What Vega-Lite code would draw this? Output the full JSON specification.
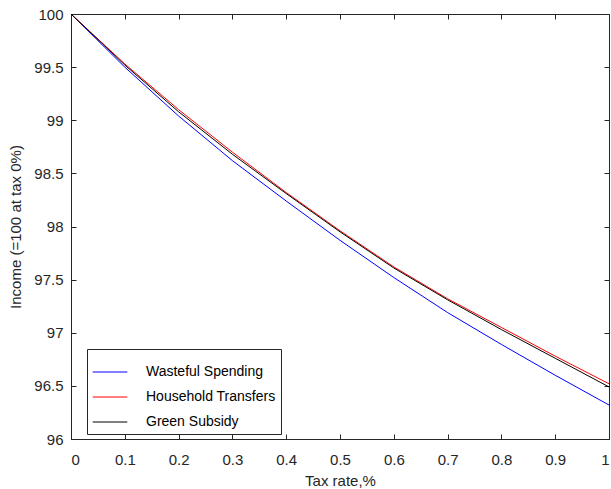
{
  "$schema": "https://vega.github.io/schema/vega-lite/v6.json",
  "width": 538,
  "height": 425,
  "autosize": {"type": "none"},
  "padding": {"left": 71, "top": 14, "right": 2, "bottom": 50},
  "background": "white",
  "config": {
    "font": "Liberation Sans",
    "view": {"stroke": "#262626", "strokeWidth": 1},
    "axis": {
      "labelFont": "Liberation Sans",
      "titleFont": "Liberation Sans",
      "labelColor": "#262626",
      "titleColor": "#262626",
      "labelFontSize": 15,
      "titleFontSize": 15,
      "titleFontWeight": "normal",
      "domainColor": "#262626",
      "tickColor": "#262626",
      "grid": false
    }
  },
  "data": {
    "values": [
      {"x": 0.0, "v": 100.0, "s": "Wasteful Spending"},
      {"x": 0.1, "v": 99.50, "s": "Wasteful Spending"},
      {"x": 0.2, "v": 99.04, "s": "Wasteful Spending"},
      {"x": 0.3, "v": 98.62, "s": "Wasteful Spending"},
      {"x": 0.4, "v": 98.24, "s": "Wasteful Spending"},
      {"x": 0.5, "v": 97.87, "s": "Wasteful Spending"},
      {"x": 0.6, "v": 97.52, "s": "Wasteful Spending"},
      {"x": 0.7, "v": 97.19, "s": "Wasteful Spending"},
      {"x": 0.8, "v": 96.89, "s": "Wasteful Spending"},
      {"x": 0.9, "v": 96.60, "s": "Wasteful Spending"},
      {"x": 1.0, "v": 96.32, "s": "Wasteful Spending"},
      {"x": 0.0, "v": 100.0, "s": "Household Transfers"},
      {"x": 0.1, "v": 99.53, "s": "Household Transfers"},
      {"x": 0.2, "v": 99.10, "s": "Household Transfers"},
      {"x": 0.3, "v": 98.70, "s": "Household Transfers"},
      {"x": 0.4, "v": 98.32, "s": "Household Transfers"},
      {"x": 0.5, "v": 97.96, "s": "Household Transfers"},
      {"x": 0.6, "v": 97.62, "s": "Household Transfers"},
      {"x": 0.7, "v": 97.32, "s": "Household Transfers"},
      {"x": 0.8, "v": 97.05, "s": "Household Transfers"},
      {"x": 0.9, "v": 96.78, "s": "Household Transfers"},
      {"x": 1.0, "v": 96.52, "s": "Household Transfers"},
      {"x": 0.0, "v": 100.0, "s": "Green Subsidy"},
      {"x": 0.1, "v": 99.52, "s": "Green Subsidy"},
      {"x": 0.2, "v": 99.08, "s": "Green Subsidy"},
      {"x": 0.3, "v": 98.68, "s": "Green Subsidy"},
      {"x": 0.4, "v": 98.31, "s": "Green Subsidy"},
      {"x": 0.5, "v": 97.95, "s": "Green Subsidy"},
      {"x": 0.6, "v": 97.61, "s": "Green Subsidy"},
      {"x": 0.7, "v": 97.31, "s": "Green Subsidy"},
      {"x": 0.8, "v": 97.03, "s": "Green Subsidy"},
      {"x": 0.9, "v": 96.76, "s": "Green Subsidy"},
      {"x": 1.0, "v": 96.49, "s": "Green Subsidy"}
    ]
  },
  "resolve": {"axis": {"x": "independent", "y": "independent"}},
  "layer": [
    {
      "mark": {"type": "line", "strokeWidth": 1, "clip": true},
      "encoding": {
        "x": {
          "field": "x", "type": "quantitative",
          "scale": {"domain": [0, 1], "nice": false, "zero": false},
          "axis": {"orient": "bottom", "title": "Tax rate,%", "values": [0,0.1,0.2,0.3,0.4,0.5,0.6,0.7,0.8,0.9,1], "format": "~g", "tickSize": -5, "labelPadding": 18, "titlePadding": 6}
        },
        "y": {
          "field": "v", "type": "quantitative",
          "scale": {"domain": [96, 100], "nice": false, "zero": false},
          "axis": {"orient": "left", "title": "Income (=100 at tax 0%)", "values": [96,96.5,97,97.5,98,98.5,99,99.5,100], "format": "~g", "tickSize": -5, "labelPadding": 13, "titlePadding": 10}
        },
        "color": {
          "field": "s", "type": "nominal",
          "scale": {"domain": ["Wasteful Spending", "Household Transfers", "Green Subsidy"], "range": ["#0000FF", "#FF0000", "#000000"]},
          "legend": {
            "title": null,
            "orient": "none",
            "legendX": 16,
            "legendY": 335,
            "symbolType": "stroke",
            "symbolSize": 1200,
            "symbolStrokeWidth": 1,
            "labelFont": "Liberation Sans",
            "labelFontSize": 14,
            "labelColor": "#000000",
            "labelOffset": 18,
            "rowPadding": 0,
            "padding": 5,
            "strokeColor": "#262626",
            "fillColor": "white"
          }
        }
      }
    },
    {
      "mark": {"type": "line", "strokeWidth": 0, "opacity": 0},
      "encoding": {
        "x": {
          "field": "x", "type": "quantitative",
          "axis": {"orient": "top", "title": null, "labels": false, "values": [0,0.1,0.2,0.3,0.4,0.5,0.6,0.7,0.8,0.9,1], "tickSize": -5}
        },
        "y": {
          "field": "v", "type": "quantitative",
          "axis": {"orient": "right", "title": null, "labels": false, "values": [96,96.5,97,97.5,98,98.5,99,99.5,100], "tickSize": -5}
        },
        "detail": {"field": "s"}
      }
    }
  ]
}
